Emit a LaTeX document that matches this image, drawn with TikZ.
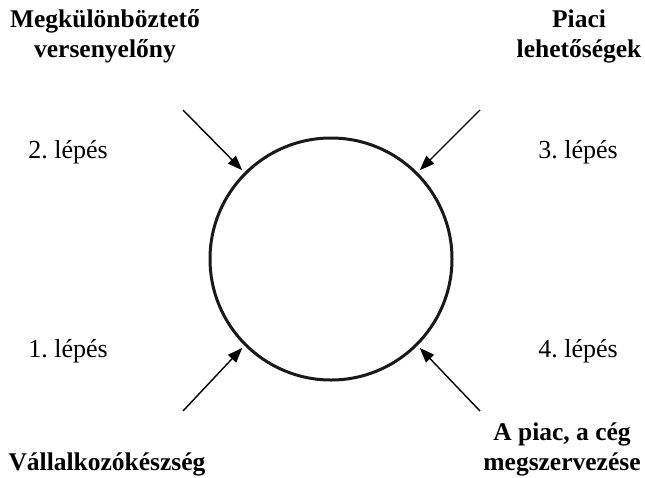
\documentclass[tikz,border=0pt]{standalone}
\usepackage{fontspec}
\setmainfont{Liberation Serif}
\usetikzlibrary{arrows.meta}
\frenchspacing
\begin{document}
\begin{tikzpicture}[x=1pt,y=-1pt,
  lbl/.style={font=\fontsize{25.5}{30}\selectfont\bfseries, align=center, anchor=base, inner sep=0pt},
  steplbl/.style={font=\fontsize{26}{30}\selectfont, anchor=base, inner sep=0pt},
  arr/.style={line width=1.4pt, -{Triangle[length=15pt,width=11pt]}, shorten >=3pt}]
\useasboundingbox (0,0) rectangle (645,477);
\node (c) [circle, draw=black!90, line width=3pt, minimum size=242pt, inner sep=0pt] at (331,259) {};
\node (t1) [lbl] at (105,57) {Megkülönböztető\\versenyelőny};
\node (t2) [lbl] at (579,57) {Piaci\\lehetőségek};
\node (t3) [lbl] at (107,470) {Vállalkozókészség};
\node (t4) [lbl] at (562,470) {A piac, a cég\\megszervezése};
\node (s2) [steplbl] at (68,158) {2.\ lépés};
\node (s3) [steplbl] at (578,158) {3.\ lépés};
\node (s1) [steplbl] at (68,357) {1.\ lépés};
\node (s4) [steplbl] at (578,357) {4.\ lépés};
\coordinate (a2) at (183,110);
\coordinate (a3) at (480,110);
\coordinate (a1) at (183,411);
\coordinate (a4) at (480,411);
\draw[arr] (a2) -- (c.135);
\draw[arr] (a3) -- (c.45);
\draw[arr] (a1) -- (c.225);
\draw[arr] (a4) -- (c.315);
\end{tikzpicture}
\end{document}
